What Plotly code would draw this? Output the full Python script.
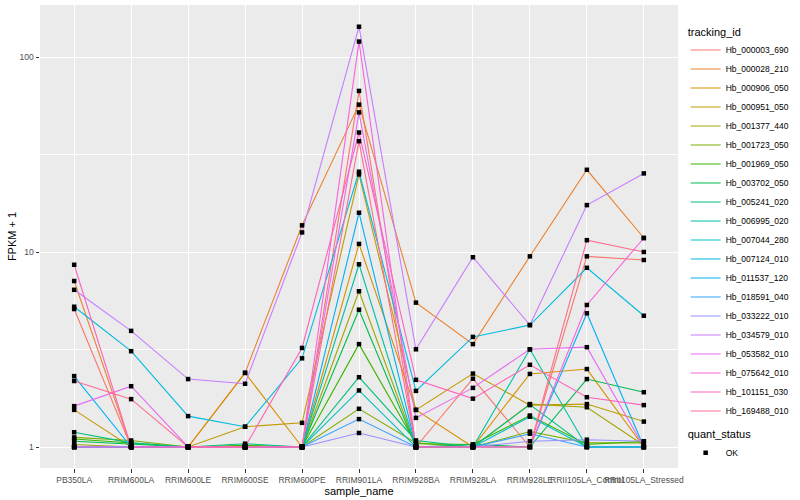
import plotly.graph_objects as go

samples = ["PB350LA", "RRIM600LA", "RRIM600LE", "RRIM600SE", "RRIM600PE",
           "RRIM901LA", "RRIM928BA", "RRIM928LA", "RRIM928LE",
           "RRII105LA_Control", "RRII105LA_Stressed"]

tracking_ids = ["Hb_000003_690", "Hb_000028_210", "Hb_000906_050", "Hb_000951_050",
                "Hb_001377_440", "Hb_001723_050", "Hb_001969_050", "Hb_003702_050",
                "Hb_005241_020", "Hb_006995_020", "Hb_007044_280", "Hb_007124_010",
                "Hb_011537_120", "Hb_018591_040", "Hb_033222_010", "Hb_034579_010",
                "Hb_053582_010", "Hb_075642_010", "Hb_101151_030", "Hb_169488_010"]

colors = ["#F8766D", "#EA8331", "#D89000", "#C09B00", "#A3A500", "#7CAE00",
          "#39B600", "#00BB4E", "#00BF7D", "#00C1A3", "#00BFC4", "#00BAE0",
          "#00B0F6", "#35A2FF", "#9590FF", "#C77CFF", "#E76BF3", "#FA62DB",
          "#FF62BC", "#FF6C91"]

# FPKM + 1 values per gene, in sample order
Hb_000003_690 = [5.1, 1.0, 1.0, 1.0, 1.0, 67.0, 1.0, 2.24, 1.0, 9.5, 9.1]
Hb_000028_210 = [7.1, 1.0, 1.0, 2.4, 13.7, 57.0, 5.5, 3.37, 9.5, 26.4, 11.8]
Hb_000906_050 = [1.0, 1.0, 1.0, 2.4, 1.0, 11.0, 1.55, 1.0, 2.37, 2.51, 1.0]
Hb_000951_050 = [1.55, 1.0, 1.0, 1.27, 1.33, 25.0, 1.55, 2.38, 1.64, 1.66, 1.35]
Hb_001377_440 = [1.03, 1.0, 1.0, 1.0, 1.0, 6.29, 1.0, 1.0, 1.66, 1.6, 1.02]
Hb_001723_050 = [1.12, 1.08, 1.0, 1.0, 1.0, 1.57, 1.05, 1.0, 1.2, 1.05, 1.05]
Hb_001969_050 = [1.1, 1.05, 1.0, 1.02, 1.0, 3.37, 1.04, 1.03, 1.45, 1.03, 1.07]
Hb_003702_050 = [1.07, 1.03, 1.0, 1.0, 1.0, 5.06, 1.0, 1.03, 1.0, 2.23, 1.91]
Hb_005241_020 = [1.19, 1.05, 1.0, 1.04, 1.0, 2.28, 1.08, 1.0, 1.65, 1.0, 1.0]
Hb_006995_020 = [1.0, 1.0, 1.0, 1.0, 1.0, 8.65, 1.0, 1.0, 3.17, 1.0, 1.0]
Hb_007044_280 = [1.0, 1.0, 1.0, 1.0, 1.0, 1.95, 1.0, 1.0, 1.43, 1.0, 1.0]
Hb_007124_010 = [5.24, 3.1, 1.44, 1.27, 2.85, 25.8, 1.94, 3.67, 4.22, 8.3, 4.71]
Hb_011537_120 = [2.31, 1.0, 1.0, 1.0, 1.0, 15.9, 1.0, 1.0, 1.0, 4.85, 1.0]
Hb_018591_040 = [1.0, 1.0, 1.0, 1.0, 1.0, 1.39, 1.0, 1.0, 1.17, 1.0, 1.0]
Hb_033222_010 = [1.0, 1.0, 1.0, 1.0, 1.0, 1.18, 1.0, 1.0, 1.07, 1.09, 1.07]
Hb_034579_010 = [6.4, 3.94, 2.23, 2.11, 12.6, 143.0, 3.17, 9.4, 4.22, 17.4, 25.3]
Hb_053582_010 = [1.62, 2.05, 1.0, 1.0, 1.0, 52.0, 1.41, 2.01, 3.17, 3.25, 1.0]
Hb_075642_010 = [1.0, 1.0, 1.0, 1.0, 1.0, 120.0, 1.0, 1.0, 1.0, 5.35, 11.8]
Hb_101151_030 = [8.6, 1.0, 1.0, 1.0, 3.22, 41.0, 2.21, 1.77, 2.64, 1.8, 1.64]
Hb_169488_010 = [2.18, 1.76, 1.0, 1.0, 1.0, 37.0, 1.0, 1.0, 1.0, 11.5, 10.0]

series = [Hb_000003_690, Hb_000028_210, Hb_000906_050, Hb_000951_050,
          Hb_001377_440, Hb_001723_050, Hb_001969_050, Hb_003702_050,
          Hb_005241_020, Hb_006995_020, Hb_007044_280, Hb_007124_010,
          Hb_011537_120, Hb_018591_040, Hb_033222_010, Hb_034579_010,
          Hb_053582_010, Hb_075642_010, Hb_101151_030, Hb_169488_010]

quant_status = ["OK"]

FONT = "Liberation Sans, Arial, Helvetica, sans-serif"

fig = go.Figure()

for name, vals, col in zip(tracking_ids, series, colors):
    fig.add_trace(go.Scatter(
        x=samples, y=vals, mode="lines", name=name,
        line=dict(color=col, width=1.1),
        legend="legend", hoverinfo="skip"))

all_x, all_y = [], []
for vals in series:
    all_x += samples
    all_y += vals
fig.add_trace(go.Scatter(
    x=all_x, y=all_y, mode="markers", name=quant_status[0],
    marker=dict(color="black", size=4.5, symbol="square"),
    legend="legend2"))

fig.update_layout(
    width=800, height=500,
    margin=dict(l=40, r=117, t=5, b=32),
    paper_bgcolor="white", plot_bgcolor="#EBEBEB",
    font=dict(family=FONT, color="black"),
    showlegend=True,
    xaxis=dict(
        type="category", categoryorder="array", categoryarray=samples,
        range=[-0.6, len(samples) - 0.4],
        showgrid=True, gridcolor="white", gridwidth=1.1,
        zeroline=False, showline=False,
        ticks="outside", ticklen=3.5, tickcolor="#333333", tickwidth=1,
        tickangle=0,
        tickfont=dict(family=FONT, size=8.5, color="#4D4D4D"),
        title=dict(text="sample_name", font=dict(family=FONT, size=11, color="black"),
                   standoff=0),
    ),
    yaxis=dict(
        type="log", range=[-0.1077, 2.2667],
        tickvals=[1, 10, 100], ticktext=["1", "10", "100"],
        showgrid=True, gridcolor="white", gridwidth=1.1,
        minor=dict(tickvals=[3.1623, 31.623], showgrid=True,
                   gridcolor="white", gridwidth=0.55, ticklen=0),
        zeroline=False, showline=False,
        ticks="outside", ticklen=3.5, tickcolor="#333333", tickwidth=1,
        tickfont=dict(family=FONT, size=8.5, color="#4D4D4D"),
        title=dict(text="FPKM + 1", font=dict(family=FONT, size=11, color="black"),
                   standoff=0),
    ),
    legend=dict(
        title=dict(text="tracking_id", font=dict(family=FONT, size=11)),
        x=1.012, xanchor="left", y=0.965, yanchor="top",
        font=dict(family=FONT, size=8.5, color="black"),
        bgcolor="rgba(0,0,0,0)", itemwidth=30, tracegroupgap=0,
    ),
    legend2=dict(
        title=dict(text="quant_status", font=dict(family=FONT, size=11)),
        x=1.012, xanchor="left", y=0.095, yanchor="top",
        font=dict(family=FONT, size=8.5, color="black"),
        bgcolor="rgba(0,0,0,0)", itemwidth=30,
    ),
)

fig.write_html("out.html", config={"displayModeBar": False},
               post_script="document.body.style.margin='0';")
